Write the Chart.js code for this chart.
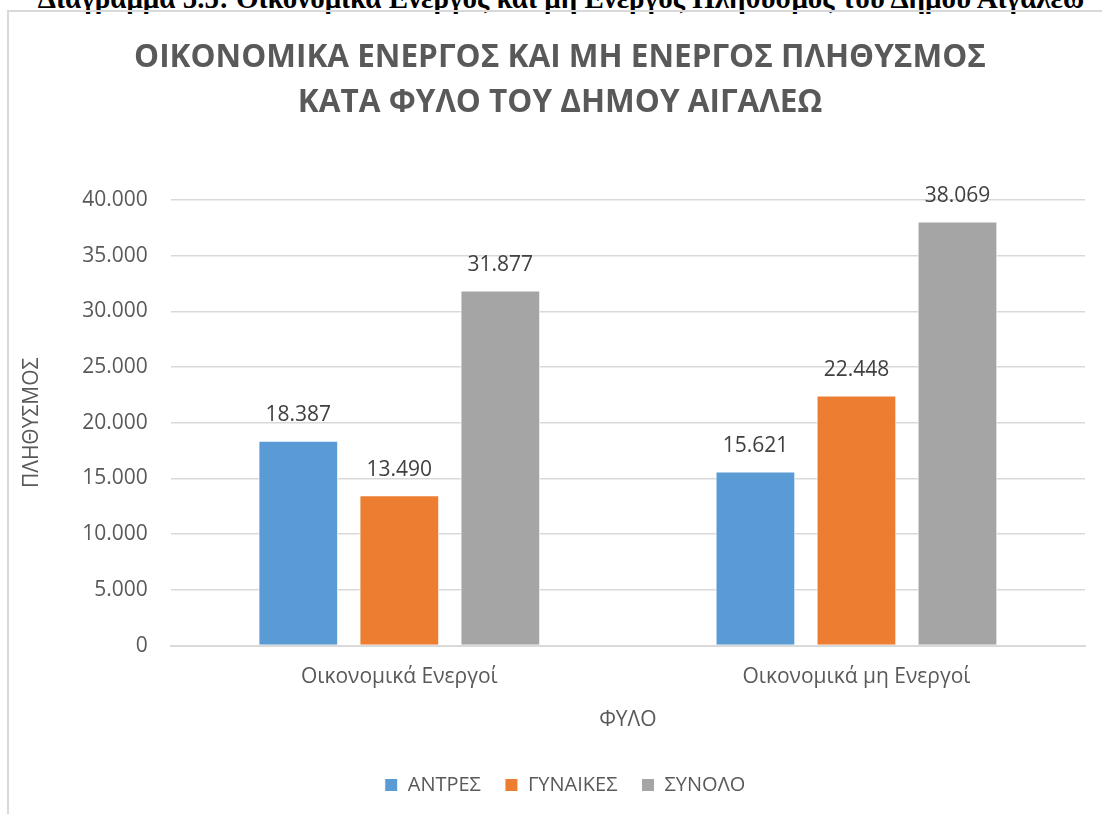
<!DOCTYPE html>
<html>
<head>
<meta charset="utf-8">
<script src="https://cdn.jsdelivr.net/npm/chart.js@4"></script>
<style>
  html, body { margin: 0; padding: 0; background: #fff; overflow: hidden; }
  #wrap { position: relative; width: 1102px; height: 814px; overflow: hidden; }
  #caption {
    position: absolute; left: 0; top: -18px; width: 1122px; text-align: center;
    font: bold 29px "Liberation Serif", "DejaVu Serif", serif; color: #000; white-space: nowrap;
  }
  #frame {
    position: absolute; left: 7px; top: 10px; width: 1200px; height: 900px;
    border: 2px solid #d9d9d9; box-sizing: border-box;
  }
  #chart { position: absolute; left: 0; top: 0; }
</style>
</head>
<body>
<div id="wrap">
  <div id="caption">Διάγραμμα 5.5: Οικονομικά Ενεργός και μη Ενεργός Πληθυσμός του Δήμου Αιγάλεω</div>
  <div id="frame"></div>
  <canvas id="chart" width="1102" height="814"></canvas>
</div>
<script>
// ── data ─────────────────────────────────────
const categories = ['Οικονομικά Ενεργοί', 'Οικονομικά μη Ενεργοί'];
const seriesNames = ['ΑΝΤΡΕΣ', 'ΓΥΝΑΙΚΕΣ', 'ΣΥΝΟΛΟ'];
const andres = [18387, 15621];
const gynaikes = [13490, 22448];
const synolo = [31877, 38069];
const titleLines = ['ΟΙΚΟΝΟΜΙΚΑ ΕΝΕΡΓΟΣ ΚΑΙ ΜΗ ΕΝΕΡΓΟΣ ΠΛΗΘΥΣΜΟΣ', 'ΚΑΤΑ ΦΥΛΟ ΤΟΥ ΔΗΜΟΥ ΑΙΓΑΛΕΩ'];

const FONT = '"Open Sans", "Noto Sans", sans-serif';
const TEXT = '#595959';
const GRID = '#d9d9d9';
const colors = ['#5B9BD5', '#ED7D31', '#A5A5A5'];

// Greek number format: 31.877
const fmt = (v) => String(Math.round(v)).replace(/\B(?=(\d{3})+(?!\d))/g, '.');

// title drawn by hand so it can sit centred on the frame, not the canvas
const titleBlock = {
  id: 'titleBlock',
  afterDraw(chart) {
    const { ctx } = chart;
    ctx.save();
    ctx.font = `bold 31.5px ${FONT}`;
    ctx.fillStyle = TEXT;
    ctx.textAlign = 'center';
    ctx.textBaseline = 'middle';
    ctx.fillText(titleLines[0], 560, 58);
    ctx.fillText(titleLines[1], 560, 103);
    ctx.restore();
  },
};

// the frame runs off the right edge, so the legend sits a bit right of canvas centre
const legendShift = {
  id: 'legendShift',
  afterLayout(chart) {
    chart.legend.left += 13;
    chart.legend.right += 13;
  },
};

const valueLabels = {
  id: 'valueLabels',
  afterDatasetsDraw(chart) {
    const { ctx } = chart;
    ctx.save();
    ctx.font = `21px ${FONT}`;
    ctx.fillStyle = '#404040';
    ctx.textAlign = 'center';
    ctx.textBaseline = 'bottom';
    chart.data.datasets.forEach((ds, i) => {
      chart.getDatasetMeta(i).data.forEach((bar, j) => {
        ctx.fillText(fmt(ds.data[j]), bar.x, bar.y - 15);
      });
    });
    ctx.restore();
  },
};

const mk = (label, data, color) => ({
  label,
  data,
  backgroundColor: color,
  borderColor: '#ffffff',
  borderWidth: 1,
  categoryPercentage: 0.663,
  barPercentage: 0.79,
});

new Chart(document.getElementById('chart'), {
  type: 'bar',
  data: {
    labels: categories,
    datasets: [
      mk(seriesNames[0], andres, colors[0]),
      mk(seriesNames[1], gynaikes, colors[1]),
      mk(seriesNames[2], synolo, colors[2]),
    ],
  },
  plugins: [titleBlock, legendShift, valueLabels],
  options: {
    responsive: false,
    animation: false,
    layout: { padding: { top: 200, left: 19, right: 17, bottom: 9 } },
    plugins: {
      title: { display: false },
      tooltip: { enabled: false },
      legend: {
        position: 'bottom',
        labels: {
          color: TEXT,
          font: { family: FONT, size: 20 },
          boxWidth: 13,
          boxHeight: 13,
          padding: 24,
        },
      },
    },
    scales: {
      x: {
        grid: { display: false },
        border: { display: true, color: GRID, width: 2 },
        ticks: { color: TEXT, font: { family: FONT, size: 21 }, padding: 11 },
        title: {
          display: true,
          text: 'ΦΥΛΟ',
          color: TEXT,
          font: { family: FONT, size: 21 },
          padding: { top: 7, bottom: 18 },
        },
      },
      y: {
        min: 0,
        max: 40000,
        grid: { color: GRID, lineWidth: 1.5, drawTicks: false },
        border: { display: false },
        ticks: {
          stepSize: 5000,
          color: TEXT,
          font: { family: FONT, size: 21 },
          padding: 23,
          callback: (v) => fmt(v),
        },
        title: {
          display: true,
          text: 'ΠΛΗΘΥΣΜΟΣ',
          color: TEXT,
          font: { family: FONT, size: 21 },
          padding: { top: 0, bottom: 15 },
        },
      },
    },
  },
});
</script>
</body>
</html>
